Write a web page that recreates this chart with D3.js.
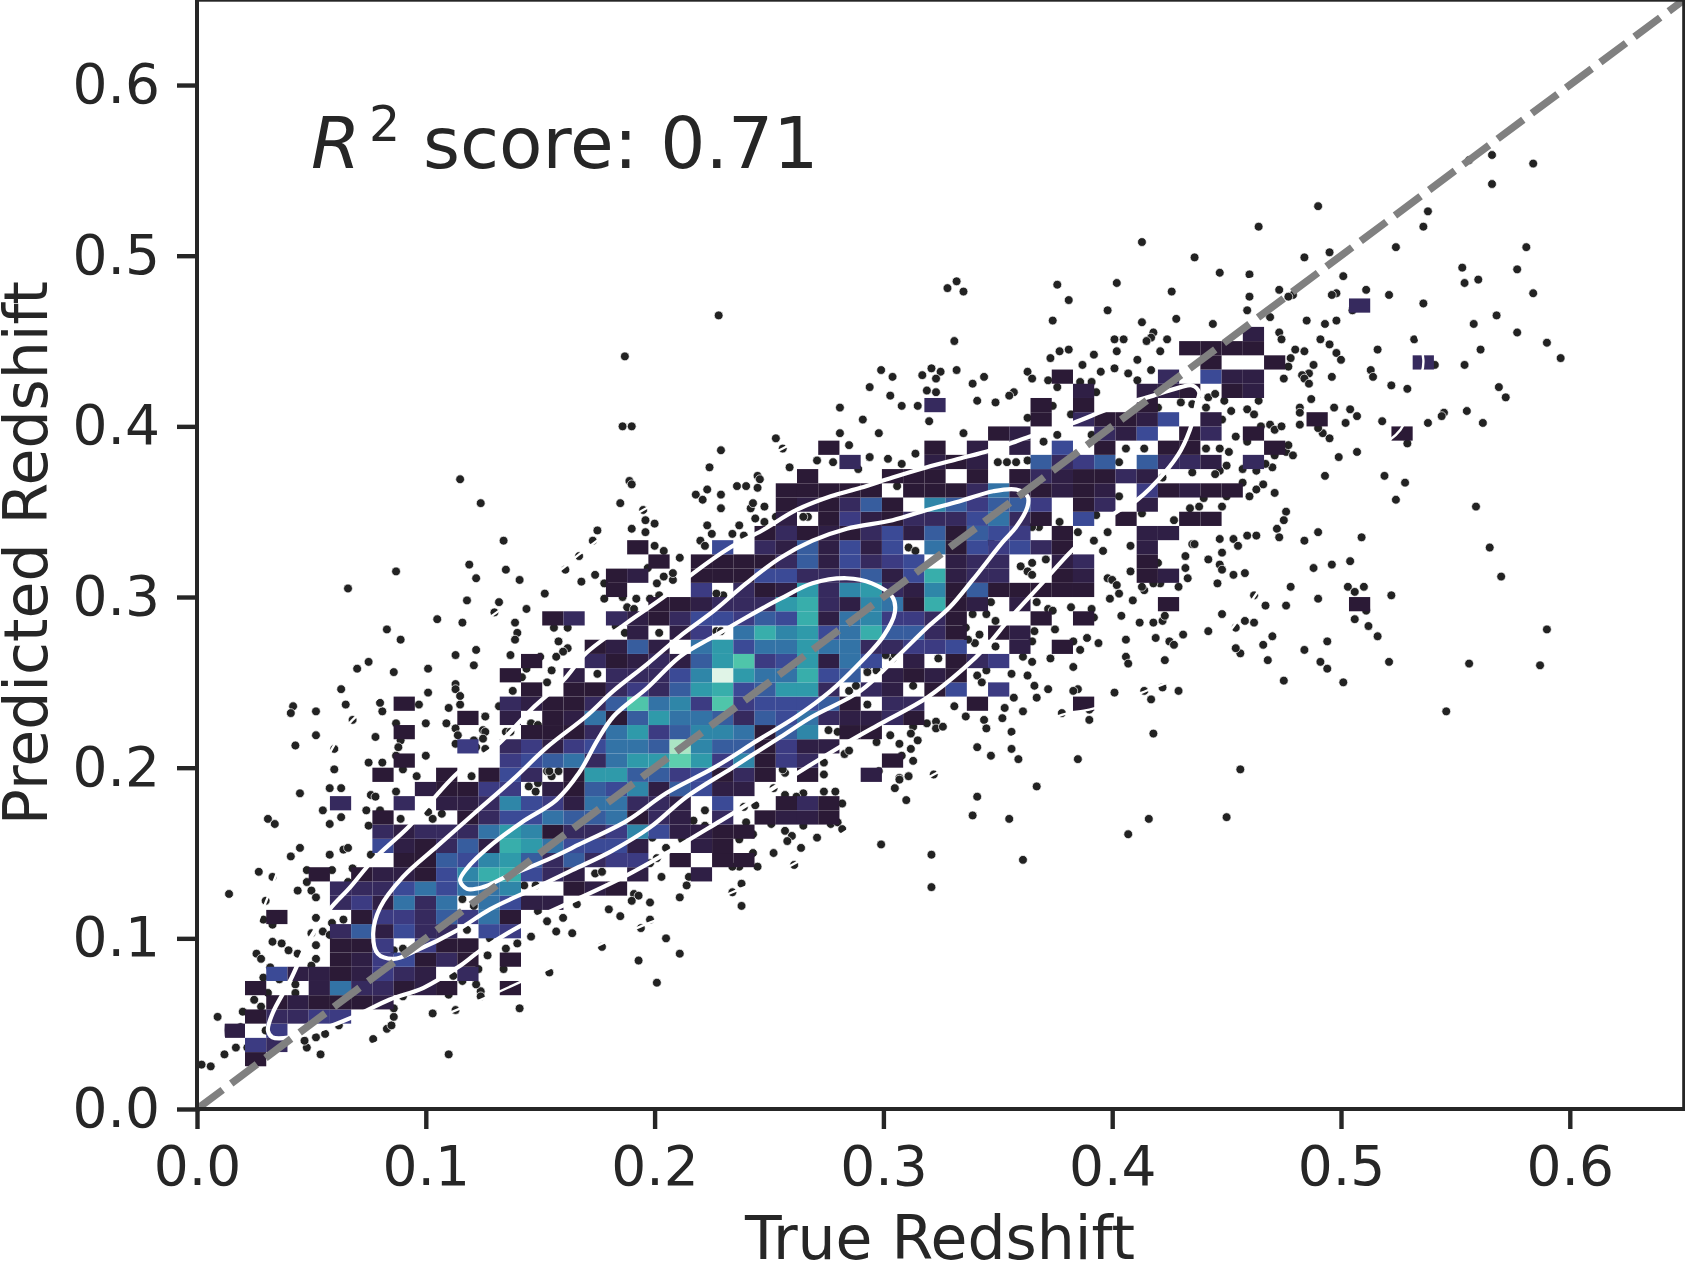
<!DOCTYPE html>
<html>
<head>
<meta charset="utf-8">
<script src="https://cdn.jsdelivr.net/npm/d3@7"></script>
<style>
  html, body { margin: 0; padding: 0; background: #fff; }
  svg { display: block; }
  text { font-family: "DejaVu Sans", sans-serif; fill: #262626; }
</style>
</head>
<body>
<svg id="chart"></svg>
<script>
const xTicks = [0, 0.1, 0.2, 0.3, 0.4, 0.5, 0.6]
const yTicks = [0, 0.1, 0.2, 0.3, 0.4, 0.5, 0.6]
const score = '0.71'

// histogram bins
const binX0 = 0.02098
const binWidth = 0.009279
const binY0 = 0.02502
const binHeight = 0.008332
const mako = ['#2b1a36', '#2f1f45', '#362a5e', '#3c3b82', '#3b4a96', '#375d9e', '#3373a6', '#2f86a8', '#2f9aaa', '#38aeab', '#4fc5aa', '#5dcfad', '#abe5c4', '#e0f4e7']

// [row, first column, counts], 0 = empty bin
const histRuns = [
  [0, 0, [1]],
  [1, 0, [4, 3]],
  [2, -1, [2, 0, 4]],
  [3, 0, [1, 3, 3, 4, 4]],
  [4, 1, [1, 2, 1, 1, 1, 2]],
  [5, 0, [1, 0, 0, 2, 7, 3, 3, 1, 2, 1, 0, 0, 1]],
  [6, 1, [5, 2, 2, 1, 2, 4, 3, 2, 0, 3]],
  [7, 4, [1, 2, 4, 5, 1, 3, 1, 0, 1]],
  [8, 4, [1, 1, 4, 0, 4, 1, 1]],
  [9, 4, [3, 6, 2, 5, 3, 3, 0, 5, 4]],
  [10, 1, [1, 0, 0, 0, 1, 4, 4, 3, 6, 4, 7, 1]],
  [11, 4, [3, 4, 2, 7, 3, 7, 0, 7, 5, 2, 2]],
  [12, 4, [3, 3, 3, 5, 7, 5, 7, 7, 8, 0, 0, 1, 2, 1]],
  [13, 3, [1, 0, 1, 2, 2, 1, 5, 8, 10, 10, 5, 3, 2, 0, 0, 2, 0, 0, 2]],
  [14, 7, [1, 1, 6, 5, 8, 9, 6, 3, 6, 3, 4, 4, 0, 1, 0, 1, 1]],
  [15, 6, [5, 2, 1, 3, 6, 2, 10, 9, 7, 5, 5, 5, 2, 0, 0, 2, 1]],
  [16, 6, [3, 2, 3, 3, 3, 7, 9, 8, 1, 3, 3, 4, 8, 5, 2, 2, 1, 1]],
  [17, 6, [1, 0, 0, 0, 1, 3, 5, 5, 7, 6, 6, 7, 1, 3, 2, 0, 3, 0, 1, 2, 2, 1]],
  [18, 4, [3, 0, 0, 3, 0, 2, 2, 3, 8, 5, 4, 2, 7, 7, 3, 3, 2, 0, 5, 0, 0, 1, 3, 1]],
  [19, 8, [2, 1, 1, 4, 4, 0, 2, 1, 6, 5, 8, 2, 6, 5, 2, 2]],
  [20, 6, [1, 0, 0, 1, 0, 1, 5, 3, 0, 1, 9, 9, 6, 6, 4, 5, 1, 3, 1, 0, 1, 0, 0, 2]],
  [21, 7, [1, 0, 0, 0, 0, 4, 5, 6, 7, 3, 7, 9, 9, 12, 9, 4, 8, 1, 4, 3, 0, 0, 0, 1]],
  [22, 10, [4, 0, 3, 4, 2, 4, 5, 7, 7, 6, 13, 8, 6, 6, 1, 4, 2, 2]],
  [23, 7, [1, 0, 0, 0, 0, 0, 1, 1, 1, 3, 7, 9, 4, 6, 8, 8, 7, 1, 6, 8, 0, 1, 1]],
  [24, 10, [1, 0, 2, 0, 1, 2, 7, 1, 6, 9, 7, 7, 6, 3, 6, 5, 7, 3, 2, 2, 3, 1]],
  [25, 7, [1, 0, 0, 0, 0, 3, 2, 1, 1, 3, 6, 11, 7, 8, 4, 11, 4, 5, 5, 5, 6, 1, 0, 3, 3, 0, 0, 1, 0, 0, 0, 0, 1]],
  [26, 13, [1, 0, 1, 1, 3, 4, 3, 6, 9, 10, 5, 6, 9, 9, 3, 0, 3, 2, 0, 1, 5, 0, 4]],
  [27, 12, [1, 0, 0, 2, 0, 3, 3, 3, 5, 8, 14, 9, 7, 7, 10, 5, 6, 0, 2, 1, 2, 1]],
  [28, 13, [1, 0, 0, 3, 1, 2, 3, 2, 6, 9, 11, 4, 5, 9, 2, 7, 5, 0, 2, 0, 1, 3, 4]],
  [29, 16, [1, 2, 6, 2, 0, 7, 9, 5, 7, 7, 9, 7, 7, 3, 3, 4, 4, 5, 0, 0, 2, 0, 1]],
  [30, 18, [2, 0, 2, 4, 0, 7, 10, 8, 9, 5, 7, 10, 6, 6, 3, 1, 0, 1, 2]],
  [31, 14, [1, 3, 0, 3, 2, 1, 3, 5, 5, 4, 6, 5, 10, 2, 7, 8, 4, 4, 3, 1, 0, 0, 0, 1, 0, 1]],
  [32, 19, [1, 1, 2, 3, 3, 3, 9, 10, 3, 2, 8, 7, 1, 10, 1, 2, 0, 2]],
  [32, 43, [1]],
  [32, 52, [1]],
  [33, 17, [1, 0, 0, 0, 4, 0, 3, 1, 2, 9, 3, 8, 9, 3, 2, 8, 1, 6, 1, 1, 1, 1, 1]],
  [34, 17, [1, 2, 0, 0, 1, 1, 1, 5, 5, 3, 3, 3, 6, 2, 5, 10, 2, 3, 3, 0, 0, 1, 2, 0, 0, 1, 2]],
  [35, 19, [1, 0, 1, 1, 1, 1, 3, 6, 2, 5, 3, 4, 5, 0, 2, 3, 3, 0, 0, 2, 3, 0, 0, 1]],
  [36, 18, [1, 0, 0, 0, 5, 0, 3, 2, 6, 2, 5, 2, 5, 0, 7, 1, 5, 4, 5, 3, 1, 0, 0, 0, 2]],
  [37, 24, [1, 3, 1, 2, 1, 3, 5, 2, 6, 1, 6, 5, 4, 0, 1, 0, 0, 0, 2, 2]],
  [38, 25, [2, 0, 1, 4, 2, 1, 3, 3, 3, 5, 7, 3, 1, 0, 5, 0, 1, 0, 0, 1, 1]],
  [39, 25, [1, 2, 1, 3, 6, 1, 0, 8, 6, 4, 6, 6, 4, 0, 1, 3, 0, 2]],
  [40, 25, [1, 1, 1, 1, 1, 0, 1, 1, 1, 3, 7, 2, 1, 2, 1, 2, 0, 4, 1, 2, 1, 1]],
  [41, 26, [1, 0, 0, 0, 1, 1, 1, 0, 1, 0, 1, 3, 2, 1, 1, 3, 2]],
  [42, 28, [3, 0, 0, 0, 2, 1, 2, 0, 0, 6, 3, 4, 6, 0, 6, 3, 3, 2, 0, 3]],
  [43, 27, [1]],
  [43, 32, [1, 0, 2, 0, 2, 0, 5, 0, 1, 0, 0, 1, 1, 0, 0, 0, 1]],
  [44, 35, [1, 2, 0, 0, 0, 3, 2, 5, 0, 1, 3, 0, 1]],
  [44, 54, [1]],
  [45, 37, [1, 0, 3, 1, 1, 2, 5, 0, 2]],
  [45, 50, [1]],
  [46, 32, [3]],
  [46, 37, [1, 0, 1, 0, 0, 1]],
  [47, 39, [2, 0, 0, 2, 2, 1, 0, 1, 2]],
  [48, 38, [1]],
  [48, 43, [3, 0, 5, 2, 2]],
  [49, 45, [1, 0, 0, 1]],
  [49, 55, [3]],
  [50, 44, [1, 1, 1, 1]],
  [51, 47, [2]],
  [53, 52, [3]]
]

// sparse points [true, predicted]
const scatter = [
  [.566,.559],[.584,.554],[.556,.556],[.566,.542],[.538,.526],[.536,.517],[.490,.529],[.464,.517],[.524,.505],[.581,.505],[.495,.502],[.484,.499],[.436,.499],[.553,.493],[.577,.492],[.560,.486],[.554,.484],[.447,.490],[.460,.489],[.501,.488],[.473,.480],[.460,.476],[.479,.477],[.477,.476],[.498,.478],[.496,.477],[.511,.480],[.521,.477],[.584,.478],[.536,.472],[.459,.468],[.469,.464],[.568,.465],[.485,.462],[.493,.460],[.498,.462],[.558,.460],[.444,.460],[.577,.455],[.473,.455],[.474,.451],[.590,.449],[.532,.451],[.491,.451],[.495,.448],[.516,.445],[.561,.445],[.480,.445],[.484,.444],[.498,.443],[.596,.440],[.500,.439],[.478,.440],[.488,.436],[.554,.436],[.477,.435],[.513,.433],[.514,.429],[.496,.429],[.486,.431],[.483,.430],[.484,.428],[.486,.425],[.475,.428],[.522,.424],[.529,.422],[.569,.423],[.572,.417],[.487,.416],[.482,.411],[.482,.408],[.497,.411],[.504,.410],[.507,.406],[.555,.409],[.545,.408],[.544,.406],[.562,.402],[.518,.403],[.538,.402],[.502,.402],[.482,.401],[.495,.393],[.492,.396],[.490,.399],[.507,.385],[.499,.382],[.493,.371],[.519,.371],[.528,.367],[.524,.357],[.559,.353],[.471,.361],[.476,.350],[.475,.345],[.472,.340],[.473,.335],[.490,.338],[.484,.333],[.509,.335],[.565,.329],[.466,.366],[.463,.363],[.460,.359],[.457,.367],[.454,.394],[.451,.385],[.450,.377],[.447,.374],[.445,.372],[.470,.376],[.467,.378],[.463,.374],[.457,.375],[.459,.391],[.469,.401],[.471,.398],[.474,.400],[.465,.400],[.476,.385],[.479,.383],[.471,.383],[.477,.389],[.464,.415],[.459,.410],[.462,.407],[.452,.409],[.448,.404],[.442,.417],[.445,.419],[.449,.415],[.435,.413],[.430,.414],[.441,.411],[.441,.387],[.447,.387],[.435,.373],[.440,.358],[.450,.359],[.434,.352],[.438,.353],[.448,.353],[.447,.334],[.453,.334],[.459,.336],[.463,.336],[.455,.330],[.435,.331],[.505,.468],[.529,.390],[.541,.436],
  [.570,.312],[.590,.281],[.556,.261],[.587,.260],[.546,.233],
  [.396,.327],[.408,.330],[.436,.331],[.448,.326],[.455,.330],[.432,.324],[.442,.322],[.447,.319],[.448,.316],[.458,.314],[.453,.313],[.446,.308],[.432,.317],[.433,.311],[.429,.306],[.408,.315],[.488,.317],[.496,.319],[.504,.321],[.503,.306],[.510,.306],[.506,.303],[.478,.306],[.490,.299],[.522,.301],[.462,.301],[.467,.295],[.476,.295],[.448,.290],[.458,.286],[.462,.285],[.454,.282],[.442,.280],[.431,.278],[.412,.285],[.418,.285],[.422,.286],[.423,.289],[.404,.289],[.398,.311],[.400,.310],[.402,.307],[.403,.302],[.409,.298],[.399,.299],[.419,.276],[.425,.274],[.427,.272],[.506,.287],[.512,.283],[.516,.277],[.470,.277],[.466,.272],[.494,.274],[.484,.269],[.468,.263],[.521,.262],[.491,.262],[.494,.258],[.475,.251],[.501,.250],[.456,.267],[.454,.270],[.423,.263],[.406,.265],[.407,.261],[.406,.275],[.394,.273],[.389,.276],[.386,.269],[.383,.259],[.373,.264],[.365,.262],[.361,.265],[.356,.255],[.363,.254],[.366,.248],[.372,.246],[.357,.241],[.367,.241],[.361,.233],[.353,.235],[.352,.229],[.356,.221],[.356,.211],[.359,.205],[.385,.205],[.418,.220],[.456,.199],[.367,.189],[.355,.170],[.416,.170],[.450,.171],[.407,.161],[.361,.146],[.385,.246],[.383,.245],[.401,.244],[.414,.245],[.417,.240],[.422,.247],[.429,.245],[.390,.228],[.390,.234],[.378,.232],[.367,.297],[.372,.293],[.374,.292],[.382,.294],[.391,.293],[.392,.288],[.375,.281],[.366,.280],[.365,.274],[.383,.274],[.360,.318],[.365,.320],[.363,.315],[.365,.313],[.371,.322],[.414,.304],[.413,.306],[.421,.308],[.418,.308],[.420,.320],[.511,.292],
  [.328,.481],[.332,.485],[.335,.479],[.376,.483],[.402,.484],[.426,.479],[.381,.474],[.398,.468],[.374,.462],[.413,.461],[.428,.463],[.331,.450],[.401,.451],[.405,.451],[.418,.455],[.417,.452],[.415,.450],[.424,.451],[.421,.444],[.377,.444],[.381,.445],[.392,.442],[.402,.444],[.411,.439],[.373,.440],[.363,.432],[.387,.436],[.299,.433],[.304,.429],[.317,.430],[.325,.432],[.332,.433],[.323,.428],[.321,.434],[.365,.428],[.372,.427],[.386,.426],[.391,.426],[.395,.432],[.401,.434],[.407,.431],[.417,.433],[.411,.427],[.294,.423],[.303,.418],[.319,.421],[.323,.420],[.339,.425],[.344,.429],[.357,.420],[.355,.418],[.376,.423],[.393,.420],[.341,.415],[.349,.414],[.308,.412],[.315,.412],[.374,.412],[.320,.403],[.363,.405],[.382,.407],[.298,.396],[.291,.404],[.335,.396],[.391,.395],[.294,.382],[.302,.381],[.314,.384],[.308,.378],[.350,.379],[.354,.379],[.358,.379],[.363,.380],[.376,.395],[.370,.391],[.403,.379],[.406,.387],[.414,.387],[.420,.411],[.403,.359],[.413,.349],[.427,.345],[.422,.370],[.393,.348],[.377,.344],[.368,.341],[.365,.341],[.385,.338],[.392,.333],[.398,.338],
  [.311,.329],[.314,.327],[.347,.332],[.347,.297],[.339,.290],[.345,.290],[.349,.286],[.336,.282],[.342,.278],[.340,.273],[.337,.275],[.349,.271],[.324,.264],[.341,.254],[.343,.250],[.313,.248],[.304,.264],[.293,.257],[.345,.257],
  [.331,.236],[.336,.230],[.344,.228],[.345,.223],[.319,.226],[.323,.227],[.323,.223],[.326,.224],[.313,.224],[.303,.219],[.312,.220],[.315,.216],[.307,.214],[.312,.211],[.341,.212],[.347,.207],[.308,.207],[.313,.204],[.311,.195],[.307,.194],[.298,.198],
  [.297,.215],[.283,.208],[.285,.210],[.274,.196],[.274,.203],[.257,.197],[.256,.199],[.252,.188],[.257,.184],[.265,.185],[.274,.186],[.279,.186],[.282,.179],[.262,.183],[.239,.177],[.244,.178],[.240,.168],[.222,.175],[.222,.166],[.217,.169],[.251,.167],[.265,.166],[.277,.167],[.280,.168],[.282,.164],[.257,.163],[.260,.160],[.258,.157],[.271,.159],[.264,.153],[.252,.150],[.243,.150],[.245,.142],[.237,.158],[.243,.161],[.261,.143],[.212,.158],[.199,.159],[.198,.144],[.201,.147],[.205,.153],[.215,.136],[.203,.136],[.214,.131],[.238,.132],[.234,.127],[.238,.119],[.211,.124],[.191,.126],[.193,.125],[.190,.122],[.198,.121],[.180,.117],[.185,.113],[.198,.111],[.194,.106],[.205,.100],[.177,.095],[.211,.091],[.193,.087],[.201,.074],[.177,.139],[.237,.142],[.234,.142],
  [.305,.188],[.307,.193],[.311,.195],[.310,.181],[.299,.155],[.321,.149],[.321,.130],[.341,.183],[.339,.172],[.322,.196],
  [.229,.386],[.224,.376],[.285,.389],[.278,.379],[.271,.380],[.294,.382],[.289,.375],[.256,.387],[.259,.376],[.245,.371],[.246,.369],[.236,.365],[.240,.365],[.245,.364],[.218,.360],[.223,.363],[.229,.360],[.221,.357],[.229,.352],[.242,.352],[.243,.355],[.248,.353],[.244,.346],[.248,.344],[.237,.342],[.223,.342],[.225,.337],[.234,.337],[.239,.336],[.220,.333],[.222,.330],[.253,.347],[.306,.365],[.189,.368],[.190,.366],[.185,.355],[.195,.351],[.196,.345],[.200,.343],[.175,.339],[.190,.340],[.196,.338],[.173,.333],[.134,.333],[.167,.324],[.161,.316],[.135,.316],[.141,.310],[.174,.313],[.168,.309],[.152,.302],[.211,.323],[.200,.330],[.204,.327],[.201,.308],[.204,.312],[.208,.310],[.208,.314],[.197,.317],[.178,.308],[.178,.299],[.186,.300],[.192,.299],[.198,.299],[.202,.301],[.132,.297],[.144,.293],[.130,.291],[.124,.355],[.139,.285],[.156,.282],[.162,.282],[.183,.283],[.187,.279],[.202,.279],[.188,.294],[.191,.293],[.140,.279],[.139,.275],[.158,.274],[.137,.266],[.162,.270],[.160,.268],[.157,.265],[.150,.265],[.155,.257],[.144,.258],[.142,.253],[.153,.250],[.138,.245],[.126,.230],[.132,.236],[.146,.226],[.125,.222],[.135,.221],[.175,.255],
  [.153,.198],[.158,.198],[.155,.195],[.145,.189],[.148,.186],[.149,.191],[.227,.280],[.229,.280],[.285,.245],[.288,.248],[.293,.237],[.293,.256],[.297,.257],[.276,.222],[.280,.221],[.267,.347],[.265,.347],[.230,.301],[.227,.302],[.301,.266],[.305,.266],
  [.042,.236],[.041,.232],[.052,.233],[.065,.237],[.081,.233],[.080,.238],[.087,.226],[.097,.237],[.110,.235],[.115,.237],[.126,.230],[.109,.226],[.100,.226],[.113,.223],[.068,.228],[.052,.219],[.078,.218],[.043,.213],[.114,.219],[.113,.214],[.121,.216],[.126,.221],[.125,.217],[.126,.211],[.089,.216],[.088,.212],[.087,.207],[.100,.207],[.075,.203],[.081,.203],[.060,.211],[.060,.199],[.090,.199],[.096,.195],[.120,.195],[.058,.188],[.063,.188],[.087,.186],[.045,.185],[.076,.184],[.078,.183],[.055,.175],[.074,.175],[.080,.175],[.063,.171],[.031,.170],[.034,.167],[.058,.167],[.075,.166],[.089,.170],[.101,.174],[.107,.173],[.103,.170],[.045,.153],[.041,.148],[.064,.152],[.066,.153],[.058,.149],[.076,.149],[.027,.139],[.033,.136],[.048,.140],[.068,.141],[.059,.140],[.048,.133],[.050,.128],[.044,.128],[.052,.124],[.066,.133],[.014,.126],[.030,.122],[.052,.112],[.029,.111],[.033,.108],[.064,.111],[.050,.103],[.055,.104],[.033,.098],[.037,.097],[.040,.093],[.052,.096],[.044,.091],[.026,.091],[.028,.088],[.052,.088],[.050,.084],[.058,.102],[.059,.109],[.032,.083],[.029,.077],[.036,.076],[.043,.073],[.043,.068],[.031,.068],[.025,.064],[.028,.060],[.020,.057],[.009,.054],[.030,.046],[.019,.048],[.012,.032],[.017,.036],[.002,.026],[.006,.025],[.022,.036],[.048,.036],[.047,.040],[.052,.042],[.056,.044],[.054,.032],[.077,.041],[.083,.047],[.085,.049],[.086,.054],[.086,.059],[.062,.049],[.110,.032],[.103,.056],[.113,.058],[.090,.066],[.110,.067],[.124,.069],[.124,.066],[.122,.073],[.141,.059],[.116,.075],[.112,.078],[.134,.082],[.123,.082],[.127,.090],[.135,.094],[.140,.097],[.146,.101],[.154,.080],[.166,.120],[.153,.110],[.160,.112],[.157,.104],[.164,.103],[.149,.116],
  [.086,.093],[.090,.094],[.116,.123],[.121,.119],[.143,.131],[.148,.131],[.174,.138],[.177,.139],[.118,.105],[.128,.100],[.154,.198],[.137,.221],[.146,.226],[.149,.225],[.132,.236],[.122,.212],
  [.115,.369],[.119,.319],[.122,.311],[.087,.315],[.066,.305],[.118,.298],[.105,.287],[.116,.285],[.083,.281],[.089,.275],[.122,.269],[.113,.266],[.121,.260],[.075,.262],[.070,.258],[.086,.256],[.101,.258],[.063,.246],[.101,.244],[.113,.249],[.113,.246],[.115,.242],
  [.228,.465],[.187,.441],[.186,.400],[.190,.400],[.281,.411],[.253,.393],[.281,.396],[.413,.508]
]

// kde contour levels
const contourOuter = [[.012,.040],[.032,.128],[.059,.211],[.068,.228],[.131,.291],[.160,.317],[.167,.325],[.195,.351],[.256,.387],[.320,.437],[.333,.442],[.359,.446],[.442,.480],[.463,.487],[.509,.494],[.522,.482],[.536,.439],[.531,.417],[.526,.398],[.500,.372],[.440,.263],[.413,.244],[.390,.234],[.378,.231],[.338,.206],[.322,.196],[.260,.143],[.234,.127],[.194,.107],[.124,.064],[.058,.029],[.028,.020]]
const contourLow = [[.031,.046],[.033,.056],[.041,.076],[.049,.099],[.058,.117],[.067,.130],[.077,.146],[.093,.166],[.114,.197],[.131,.213],[.146,.234],[.160,.251],[.170,.267],[.188,.285],[.205,.301],[.217,.314],[.233,.329],[.247,.339],[.262,.351],[.277,.359],[.290,.364],[.304,.370],[.319,.376],[.333,.381],[.347,.386],[.364,.394],[.383,.402],[.400,.411],[.418,.418],[.430,.423],[.435,.424],[.438,.420],[.437,.414],[.435,.402],[.430,.386],[.423,.373],[.411,.357],[.401,.349],[.383,.328],[.370,.309],[.355,.287],[.345,.271],[.335,.258],[.319,.241],[.299,.226],[.282,.213],[.259,.194],[.229,.169],[.188,.137],[.141,.107],[.124,.093],[.114,.083],[.099,.071],[.084,.064],[.070,.055],[.055,.047],[.041,.042],[.033,.042]]
const contourMid = [[.077,.103],[.080,.118],[.090,.136],[.105,.154],[.121,.173],[.138,.193],[.153,.212],[.170,.230],[.182,.245],[.197,.261],[.211,.277],[.226,.292],[.240,.308],[.255,.323],[.269,.333],[.284,.340],[.304,.345],[.319,.351],[.333,.356],[.348,.362],[.358,.363],[.363,.359],[.363,.353],[.358,.341],[.352,.332],[.339,.310],[.329,.294],[.319,.282],[.306,.265],[.290,.245],[.269,.230],[.255,.218],[.234,.200],[.214,.183],[.198,.165],[.181,.151],[.164,.140],[.147,.129],[.128,.117],[.114,.105],[.096,.093],[.086,.088],[.079,.091]]
const contourHigh = [[.115,.134],[.118,.141],[.128,.154],[.142,.168],[.157,.181],[.167,.197],[.175,.216],[.182,.230],[.197,.247],[.211,.265],[.226,.277],[.240,.288],[.255,.299],[.269,.308],[.284,.311],[.295,.308],[.304,.300],[.305,.291],[.300,.277],[.288,.259],[.277,.245],[.262,.230],[.245,.216],[.226,.200],[.205,.185],[.188,.169],[.167,.155],[.153,.146],[.135,.136],[.125,.130],[.118,.129]]

const width = 1685
const height = 1272

const x = d3.scaleLinear().domain([0, 0.65]).range([197, 1684.2])
const y = d3.scaleLinear().domain([0, 0.65]).range([1109, -0.3])
const color = d3.scaleLinear().domain(d3.range(1, mako.length + 1)).range(mako)

const svg = d3.select('#chart')
  .attr('width', width)
  .attr('height', height)
  .attr('viewBox', `0 0 ${width} ${height}`)

const plot = svg.append('g')

// points first, the histogram covers them
plot.append('g')
  .selectAll('circle')
  .data(scatter)
  .enter().append('circle')
  .attr('cx', d => x(d[0]))
  .attr('cy', d => y(d[1]))
  .attr('r', 4.4)
  .attr('fill', '#222222')
  .attr('stroke', '#ffffff')
  .attr('stroke-width', 0.7)

const cells = histRuns.flatMap(([row, first, counts]) =>
  counts.map((count, i) => ({ row, col: first + i, count })).filter(d => d.count > 0))

plot.append('g')
  .selectAll('rect')
  .data(cells)
  .enter().append('rect')
  .attr('x', d => x(binX0 + d.col * binWidth))
  .attr('y', d => y(binY0 + (d.row + 1) * binHeight))
  .attr('width', d => x(binX0 + (d.col + 1) * binWidth) - x(binX0 + d.col * binWidth))
  .attr('height', d => y(binY0 + d.row * binHeight) - y(binY0 + (d.row + 1) * binHeight))
  .attr('fill', d => color(d.count))

const contourLine = d3.line()
  .x(d => x(d[0]))
  .y(d => y(d[1]))
  .curve(d3.curveCatmullRomClosed.alpha(0.5))

plot.append('g')
  .selectAll('path')
  .data([contourOuter, contourLow, contourMid, contourHigh])
  .enter().append('path')
  .attr('d', contourLine)
  .attr('fill', 'none')
  .attr('stroke', '#ffffff')
  .attr('stroke-width', (d, i) => i === 0 ? 2.4 : 4.2)

// one to one line
plot.append('line')
  .attr('x1', x(0))
  .attr('y1', y(0))
  .attr('x2', x(0.65))
  .attr('y2', y(0.65))
  .attr('stroke', '#808080')
  .attr('stroke-width', 7.4)
  .attr('stroke-dasharray', '32 10.7')

// axes
const xAxis = svg.append('g')
  .attr('transform', `translate(0,${y(0)})`)
  .call(d3.axisBottom(x).tickValues(xTicks).tickSize(20).tickPadding(17).tickFormat(d3.format('.1f')))
const yAxis = svg.append('g')
  .attr('transform', `translate(${x(0)},0)`)
  .call(d3.axisLeft(y).tickValues(yTicks).tickSize(20).tickPadding(17).tickFormat(d3.format('.1f')))

;[xAxis, yAxis].forEach(axis => {
  axis.select('.domain').remove()
  axis.selectAll('.tick line').attr('stroke', '#262626').attr('stroke-width', 4.4)
  axis.selectAll('.tick text').attr('font-size', 55).attr('font-family', '"DejaVu Sans", sans-serif').attr('fill', '#262626')
})

svg.append('rect')
  .attr('x', x(0))
  .attr('y', y(0.65))
  .attr('width', x(0.65) - x(0))
  .attr('height', y(0) - y(0.65))
  .attr('fill', 'none')
  .attr('stroke', '#262626')
  .attr('stroke-width', 4)

svg.append('text')
  .attr('x', (x(0) + x(0.65)) / 2 - 0.5)
  .attr('y', 1259)
  .attr('text-anchor', 'middle')
  .attr('font-size', 60)
  .text('True Redshift')

svg.append('text')
  .attr('transform', 'translate(47,553) rotate(-90)')
  .attr('text-anchor', 'middle')
  .attr('font-size', 60)
  .text('Predicted Redshift')

// annotation, mathtext style R^2
const note = svg.append('text').attr('y', 168).attr('font-size', 71)
note.append('tspan').attr('x', 311).attr('font-style', 'italic').text('R')
note.append('tspan').attr('x', 369).attr('dy', -27).attr('font-size', 49).text('2')
note.append('tspan').attr('x', 423).attr('dy', 27).text(`score: ${score}`)
</script>
</body>
</html>
